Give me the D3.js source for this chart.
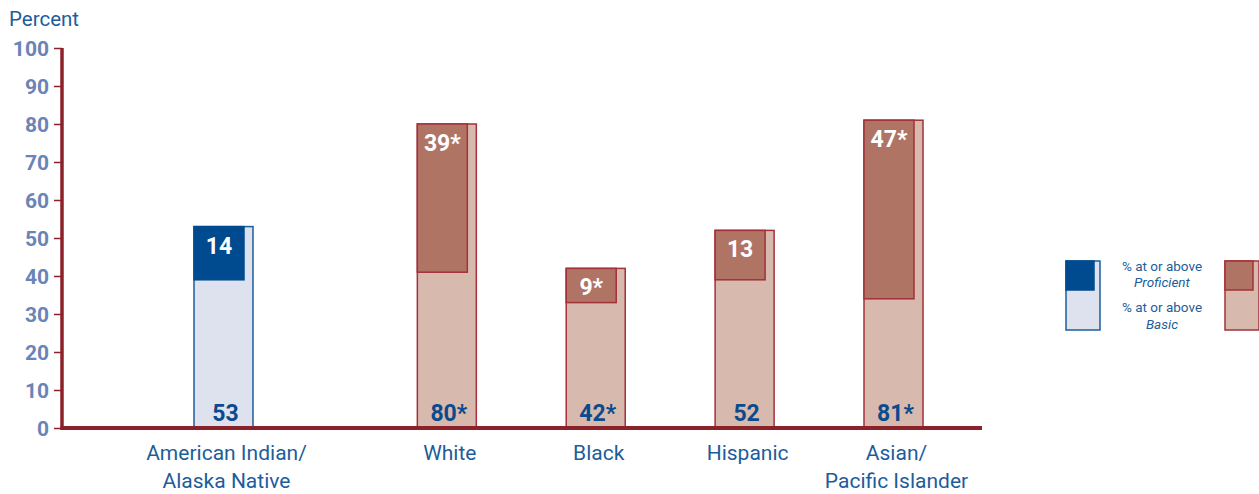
<!DOCTYPE html>
<html>
<head>
<meta charset="utf-8">
<script src="https://cdn.jsdelivr.net/npm/d3@7"></script>
<style>
  body { margin: 0; background: #fff; }
  svg { display: block; }
</style>
</head>
<body>
<div id="chart"></div>
<script>
// data
var categories = ["American Indian/Alaska Native", "White", "Black", "Hispanic", "Asian/Pacific Islander"];
var labelLines = [["American Indian/", "Alaska Native"], ["White"], ["Black"], ["Hispanic"], ["Asian/", "Pacific Islander"]];
var basicValues = [53, 80, 42, 52, 81];
var proficientValues = [14, 39, 9, 13, 47];
var basicLabels = ["53", "80*", "42*", "52", "81*"];
var proficientLabels = ["14", "39*", "9*", "13", "47*"];
var yTicks = [0, 10, 20, 30, 40, 50, 60, 70, 80, 90, 100];

var width = 1259, height = 494;
var axisRed = "#8c2229";
var blueDark = "#004b8f", blueLight = "#dde2ee", blueStroke = "#1d5d9b";
var redDark = "#b07465", redLight = "#d8b9ad", redStroke = "#a3303a";
var font = "Roboto, 'Liberation Sans', sans-serif";

var svg = d3.select("#chart").append("svg")
    .attr("width", width)
    .attr("height", height);

var yScale = d3.scaleLinear()
    .domain([0, 100])
    .range([428, 48]);

// first group stands apart from the rest
var slot = function(i) { return i === 0 ? 0 : 2 * i + 1; };
var xScale = d3.scaleLinear()
    .domain([0, 9])
    .range([223.5, 893.5]);

var barW = 59, profW = 50;

// y axis
var yAxis = svg.append("g")
    .attr("transform", "translate(62,0)")
    .call(d3.axisLeft(yScale).tickValues(yTicks).tickSize(8).tickPadding(5));
yAxis.select(".domain").remove();
yAxis.selectAll(".tick line").attr("stroke", axisRed).attr("stroke-width", 1.5);
yAxis.selectAll(".tick text")
    .attr("fill", "#6a84b7")
    .style("font-family", font)
    .style("font-weight", "bold")
    .style("font-size", "21px")
    .attr("dy", "0.36em");

svg.append("text")
    .attr("x", 9)
    .attr("y", 26)
    .attr("fill", "#1d5d9b")
    .style("font-family", font)
    .style("font-size", "20.5px")
    .text("Percent");

// bars
var groups = svg.selectAll(".bar")
    .data(categories)
    .join("g")
    .attr("class", "bar");

groups.append("rect")
    .attr("x", function(d, i) { return xScale(slot(i)) - barW / 2; })
    .attr("y", function(d, i) { return yScale(basicValues[i]); })
    .attr("width", barW)
    .attr("height", function(d, i) { return yScale(0) - yScale(basicValues[i]); })
    .attr("fill", function(d, i) { return i === 0 ? blueLight : redLight; })
    .attr("stroke", function(d, i) { return i === 0 ? blueStroke : redStroke; })
    .attr("stroke-width", 1.5);

groups.append("rect")
    .attr("x", function(d, i) { return xScale(slot(i)) - barW / 2; })
    .attr("y", function(d, i) { return yScale(basicValues[i]); })
    .attr("width", profW)
    .attr("height", function(d, i) { return yScale(0) - yScale(proficientValues[i]); })
    .attr("fill", function(d, i) { return i === 0 ? blueDark : redDark; })
    .attr("stroke", function(d, i) { return i === 0 ? blueDark : redStroke; })
    .attr("stroke-width", 1.5);

groups.append("text")
    .attr("x", function(d, i) { return xScale(slot(i)) - barW / 2 + profW / 2; })
    .attr("y", function(d, i) { return yScale(basicValues[i]) + 27; })
    .attr("text-anchor", "middle")
    .attr("fill", "#fff")
    .style("font-family", font)
    .style("font-weight", "bold")
    .style("font-size", "23px")
    .text(function(d, i) { return proficientLabels[i]; });

groups.append("text")
    .attr("x", function(d, i) { return xScale(slot(i)) + 2; })
    .attr("y", yScale(0) - 7)
    .attr("text-anchor", "middle")
    .attr("fill", "#0b4a8c")
    .style("font-family", font)
    .style("font-weight", "bold")
    .style("font-size", "23px")
    .text(function(d, i) { return basicLabels[i]; });

// category labels
groups.append("text")
    .attr("text-anchor", "middle")
    .attr("fill", "#1d5d9b")
    .style("font-family", font)
    .style("font-size", "21px")
    .selectAll("tspan")
    .data(function(d, i) { return labelLines[i].map(function(t) { return { t: t, x: xScale(slot(i)) + 3 }; }); })
    .join("tspan")
    .attr("x", function(d) { return d.x; })
    .attr("y", function(d, j) { return 460 + j * 28; })
    .text(function(d) { return d.t; });

// axis lines
svg.append("line")
    .attr("x1", 62).attr("x2", 62)
    .attr("y1", yScale(100)).attr("y2", yScale(0) + 2)
    .attr("stroke", axisRed).attr("stroke-width", 3.5);
svg.append("line")
    .attr("x1", 60.5).attr("x2", 982)
    .attr("y1", yScale(0)).attr("y2", yScale(0))
    .attr("stroke", axisRed).attr("stroke-width", 4);

// legend
var legend = svg.append("g");
var legendBoxes = [
    { x: 1066, light: blueLight, dark: blueDark, stroke: blueStroke, inner: blueDark },
    { x: 1225, light: redLight, dark: redDark, stroke: redStroke, inner: redStroke }
];
legendBoxes.forEach(function(b) {
    legend.append("rect")
        .attr("x", b.x).attr("y", 261).attr("width", 34).attr("height", 69)
        .attr("fill", b.light).attr("stroke", b.stroke).attr("stroke-width", 1.5);
    legend.append("rect")
        .attr("x", b.x).attr("y", 261).attr("width", 28).attr("height", 29)
        .attr("fill", b.dark).attr("stroke", b.inner).attr("stroke-width", 1.5);
});
var legendText = [
    { t: "% at or above", y: 271, italic: false },
    { t: "Proficient", y: 287, italic: true },
    { t: "% at or above", y: 312, italic: false },
    { t: "Basic", y: 329, italic: true }
];
legend.selectAll(".lt")
    .data(legendText)
    .join("text")
    .attr("class", "lt")
    .attr("x", 1162)
    .attr("y", function(d) { return d.y; })
    .attr("text-anchor", "middle")
    .attr("fill", "#1d5d9b")
    .style("font-family", font)
    .style("font-size", "13.5px")
    .style("font-style", function(d) { return d.italic ? "italic" : "normal"; })
    .text(function(d) { return d.t; });
</script>
</body>
</html>
